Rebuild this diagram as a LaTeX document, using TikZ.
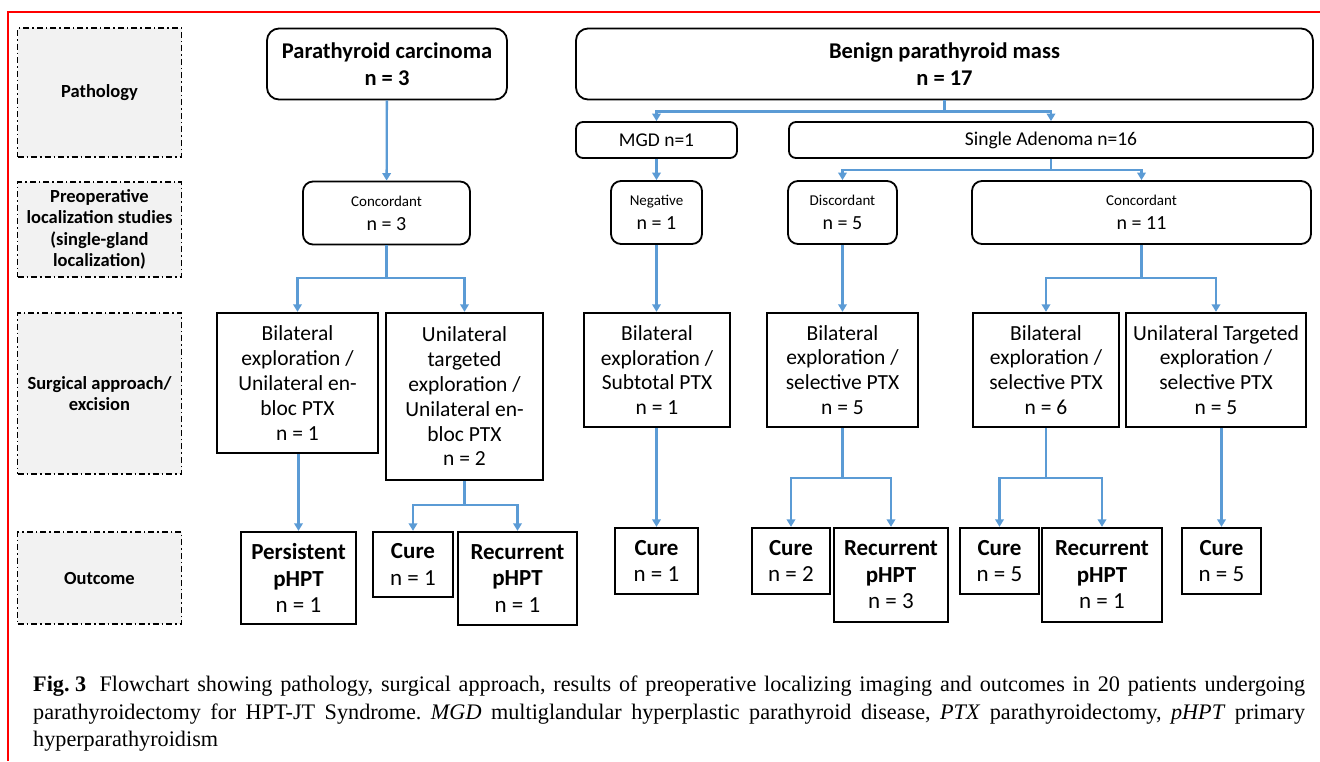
\documentclass[tikz,border=0pt]{standalone}
\usepackage{fontspec}
\setmainfont{Carlito}
\newfontfamily\capfont{Liberation Serif}
\usetikzlibrary{arrows.meta}
\definecolor{flowblue}{RGB}{91,155,213}
\definecolor{lblgray}{RGB}{242,242,242}
\newcommand{\tagline}[1]{{\fontsize{15}{18}\selectfont #1}}
\tikzset{
  lblbox/.style={draw,line width=1.4pt,dash pattern=on 6pt off 3pt on 1.5pt off 3pt,fill=lblgray,minimum width=164pt,inner sep=0pt,align=center,font=\bfseries\fontsize{18.5}{21.5}\selectfont},
  rbox/.style={draw,line width=1.8pt,rounded corners=10pt,inner sep=0pt,align=center},
  topbox/.style={rbox,rounded corners=12pt,minimum height=71pt,font=\bfseries\fontsize{22.5}{27}\selectfont},
  subbox/.style={rbox,rounded corners=7pt,minimum height=36pt,font=\fontsize{19.5}{23}\selectfont},
  prebox/.style={rbox,minimum height=63pt,font=\fontsize{20}{24}\selectfont},
  sqbox/.style={draw,line width=2.3pt,inner sep=0pt,align=center,font=\fontsize{21.5}{24.8}\selectfont},
  outbox/.style={sqbox,font=\fontsize{23}{26.5}\selectfont},
  link/.style={draw=flowblue,line width=2.3pt},
  arr/.style={link,-{Triangle[width=8.5pt,length=7.5pt]}},
}
\begin{document}
\begin{tikzpicture}[x=1pt,y=-1pt]
\useasboundingbox (0,0) rectangle (1320,761);
\draw[red,line width=2pt] (1320,12) -- (8,12) -- (8,761);
% row labels
\foreach \ly/\lh/\lname/\ltxt in {92.5/129/lpath/{Pathology},229.5/95/lpre/{Preoperative\\localization studies\\(single-gland\\localization)},393.5/161/lsurg/{Surgical approach/\\excision},578/92/lout/{Outcome}}{\node[lblbox,minimum height=\lh pt] (\lname) at (99.5,\ly) {\ltxt};}
% pathology
\node[topbox,minimum width=240pt] (carc) at (387,64) {Parathyroid carcinoma\\n = 3};
\node[topbox,minimum width=737pt] (benign) at (944.5,64) {Benign parathyroid mass\\n = 17};
\node[subbox,minimum width=161pt] (mgd) at (656.5,140) {MGD n=1};
\node[subbox,minimum width=524pt] (sad) at (1051,140) {Single Adenoma n=16};
% localization
\node[prebox,minimum width=167pt] (conc1) at (386.5,213) {\tagline{Concordant}\\n = 3};
\node[prebox,minimum width=91pt] (neg) at (656.5,212.5) {\tagline{Negative}\\n = 1};
\node[prebox,minimum width=109pt] (disc) at (842.5,212.5) {\tagline{Discordant}\\n = 5};
\node[prebox,minimum width=339pt] (conc2) at (1141.5,212.5) {\tagline{Concordant}\\n = 11};
% surgery
\node[sqbox,minimum width=161pt,minimum height=140pt] (s1) at (297.5,383) {Bilateral\\exploration /\\Unilateral en-\\bloc PTX\\n = 1};
\node[sqbox,minimum width=157pt,minimum height=167pt] (s2) at (464.5,396.5) {Unilateral\\targeted\\exploration /\\Unilateral en-\\bloc PTX\\n = 2};
\node[sqbox,minimum width=146pt,minimum height=114pt] (s3) at (657,370) {Bilateral\\exploration /\\Subtotal PTX\\n = 1};
\node[sqbox,minimum width=151pt,minimum height=114pt] (s4) at (842.5,370) {Bilateral\\exploration /\\selective PTX\\n = 5};
\node[sqbox,minimum width=146pt,minimum height=114pt] (s5) at (1046,370) {Bilateral\\exploration /\\selective PTX\\n = 6};
\node[sqbox,minimum width=180pt,minimum height=114pt] (s6) at (1216,370) {Unilateral Targeted\\exploration /\\selective PTX\\n = 5};
% outcome
\node[outbox,minimum width=115pt,minimum height=92pt] (o1) at (298.5,578) {\textbf{Persistent}\\\textbf{pHPT}\\n = 1};
\node[outbox,minimum width=80pt,minimum height=65pt] (o2) at (413,564.5) {\textbf{Cure}\\n = 1};
\node[outbox,minimum width=119pt,minimum height=93pt] (o3) at (517.5,578.5) {\textbf{Recurrent}\\\textbf{pHPT}\\n = 1};
\node[outbox,minimum width=83pt,minimum height=66pt] (o4) at (656.5,561) {\textbf{Cure}\\n = 1};
\node[outbox,minimum width=78pt,minimum height=66pt] (o5) at (791,561) {\textbf{Cure}\\n = 2};
\node[outbox,minimum width=114pt,minimum height=94pt] (o6) at (891,575) {\textbf{Recurrent}\\\textbf{pHPT}\\n = 3};
\node[outbox,minimum width=79pt,minimum height=66pt] (o7) at (999.5,561) {\textbf{Cure}\\n = 5};
\node[outbox,minimum width=120pt,minimum height=94pt] (o8) at (1102,575) {\textbf{Recurrent}\\\textbf{pHPT}\\n = 1};
\node[outbox,minimum width=79pt,minimum height=66pt] (o9) at (1221.5,561) {\textbf{Cure}\\n = 5};
% connectors
\coordinate (bsplit) at ([yshift=-11pt]benign.south);
\coordinate (ssplit) at ([yshift=-11pt]sad.south);
\coordinate (c1split) at (conc1.south |- 0,278);
\coordinate (c2split) at (conc2.south |- 0,278);
\coordinate (s2split) at (s2.south |- 0,505);
\coordinate (s4split) at (s4.south |- 0,478);
\coordinate (s5split) at (s5.south |- 0,478);
\draw[arr] (carc) -- (conc1);
\draw[link] (benign.south) -- (bsplit);
\draw[arr] (bsplit) -| (mgd.north);
\draw[arr] (bsplit) -| (sad.north);
\draw[arr] (mgd) -- (neg);
\draw[link] (sad.south) -- (ssplit);
\draw[arr] (ssplit) -| (disc.north);
\draw[arr] (ssplit) -| (conc2.north);
\draw[link] (conc1.south) -- (c1split);
\draw[arr] (c1split) -| (s1.north);
\draw[arr] (c1split) -| (s2.north);
\draw[arr] (neg.south) -- (neg.south |- s3.north);
\draw[arr] (disc) -- (s4);
\draw[link] (conc2.south) -- (c2split);
\draw[arr] (c2split) -| (s5.north);
\draw[arr] (c2split) -| (s6.north);
\draw[arr] (s1.south -| o1) -- (o1);
\draw[link] (s2.south) -- (s2split);
\draw[arr] (s2split) -| (o2.north);
\draw[arr] (s2split) -| (o3.north);
\draw[arr] (s3.south -| o4) -- (o4);
\draw[link] (s4.south) -- (s4split);
\draw[arr] (s4split) -| (o5.north);
\draw[arr] (s4split) -| (o6.north);
\draw[link] (s5.south) -- (s5split);
\draw[arr] (s5split) -| (o7.north);
\draw[arr] (s5split) -| (o8.north);
\draw[arr] (s6.south -| o9) -- (o9);
% caption
\node[anchor=north west,inner sep=0pt,align=left,font=\capfont\frenchspacing\fontsize{22.2}{27.5}\selectfont] (cap) at (33,676) {\makebox[1272pt][s]{\mbox{\textbf{Fig.\ 3}\hspace{0.6em}Flowchart} showing pathology, surgical approach, results of preoperative localizing imaging and outcomes in 20 patients undergoing}\\\makebox[1272pt][s]{parathyroidectomy for HPT-JT Syndrome. \textit{MGD} multiglandular hyperplastic parathyroid disease, \textit{PTX} parathyroidectomy, \textit{pHPT} primary}\\hyperparathyroidism};
\end{tikzpicture}
\end{document}
